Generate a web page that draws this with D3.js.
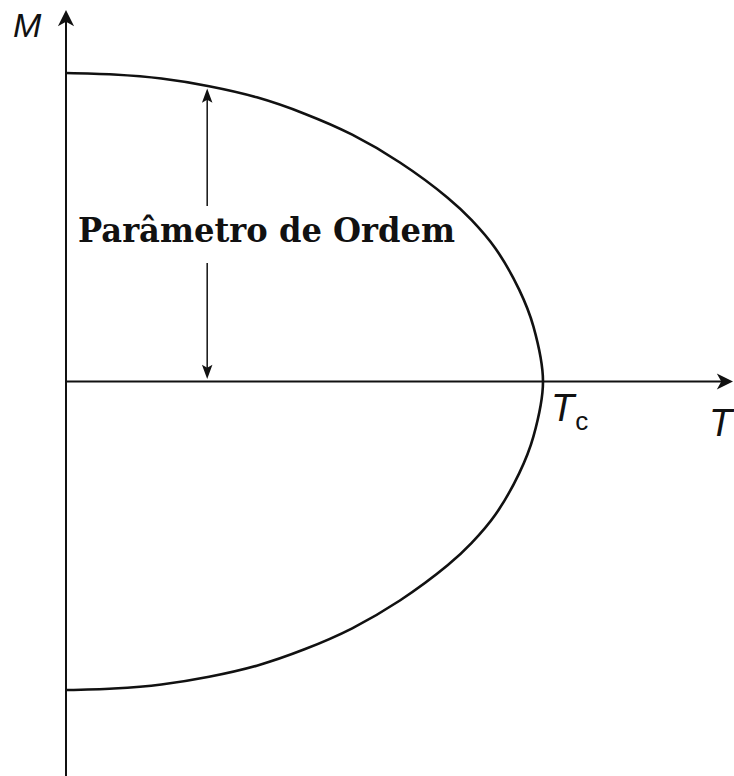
<!DOCTYPE html>
<html>
<head>
<meta charset="utf-8">
<script src="https://cdn.jsdelivr.net/npm/d3@7"></script>
<style>
  html, body { margin: 0; padding: 0; background: #fff; }
  svg { display: block; }
</style>
</head>
<body>
<svg id="chart" width="734" height="776"></svg>
<script>
// Data (T in units of Tc, M normalised to M(0))
const temperatures = [0, 0.1, 0.2, 0.3, 0.4, 0.5, 0.6, 0.7, 0.8, 0.85, 0.9, 0.95, 0.98, 1.0];
const magnetization = [1.0, 0.995, 0.982, 0.957, 0.921, 0.868, 0.800, 0.710, 0.596, 0.524, 0.432, 0.298, 0.178, 0.0];
const arrowT = 0.296;            // position of the order-parameter arrow
const labelText = "Parâmetro de Ordem";

const svg = d3.select("#chart");
const x = d3.scaleLinear().domain([0, 1]).range([66, 543]);
const y = d3.scaleLinear().domain([-1, 1]).range([690, 73]);

const ink = "#111";

// arrowhead markers (notched)
const defs = svg.append("defs");
defs.append("marker")
  .attr("id", "head").attr("viewBox", "-10 -10 20 20")
  .attr("markerWidth", 18).attr("markerHeight", 18)
  .attr("refX", 0).attr("refY", 0).attr("orient", "auto")
  .attr("markerUnits", "userSpaceOnUse")
  .append("path").attr("d", "M10,0 L-8,-9 L-3,0 L-8,9 Z").attr("fill", ink);
defs.append("marker")
  .attr("id", "small").attr("viewBox", "-10 -10 20 20")
  .attr("markerWidth", 15).attr("markerHeight", 15)
  .attr("refX", 0).attr("refY", 0).attr("orient", "auto")
  .attr("markerUnits", "userSpaceOnUse")
  .append("path").attr("d", "M10,0 L-9,-7 L-5,0 L-9,7 Z").attr("fill", ink);

// axes
svg.append("line")
  .attr("x1", x(0)).attr("y1", 776).attr("x2", x(0)).attr("y2", 19)
  .attr("stroke", ink).attr("stroke-width", 2).attr("marker-end", "url(#head)");
svg.append("line")
  .attr("x1", x(0)).attr("y1", y(0)).attr("x2", 724).attr("y2", y(0))
  .attr("stroke", ink).attr("stroke-width", 2).attr("marker-end", "url(#head)");

// curve: upper branch then lower branch (mirror)
const upper = temperatures.map((t, i) => [t, magnetization[i]]);
const lower = upper.slice(0, -1).reverse().map(d => [d[0], -d[1]]);
const pts = upper.concat(lower);
const line = d3.line().x(d => x(d[0])).y(d => y(d[1])).curve(d3.curveCatmullRom.alpha(0.5));
svg.append("path").attr("d", line(pts))
  .attr("fill", "none").attr("stroke", ink).attr("stroke-width", 2.6);

// order parameter double arrow
const mAt = d3.scaleLinear().domain(temperatures).range(magnetization)(arrowT);
const ax = x(arrowT);
svg.append("line")
  .attr("x1", ax).attr("y1", 206).attr("x2", ax).attr("y2", y(mAt) + 10)
  .attr("stroke", ink).attr("stroke-width", 1.5).attr("marker-end", "url(#small)");
svg.append("line")
  .attr("x1", ax).attr("y1", 263).attr("x2", ax).attr("y2", y(0) - 10)
  .attr("stroke", ink).attr("stroke-width", 1.5).attr("marker-end", "url(#small)");

svg.append("text")
  .attr("x", 78).attr("y", 242)
  .attr("font-family", "'DejaVu Serif', 'Liberation Serif', serif")
  .attr("font-weight", "bold").attr("font-size", 33)
  .attr("textLength", 377).attr("lengthAdjust", "spacingAndGlyphs")
  .attr("fill", ink).text(labelText);

// axis labels
const lab = svg.append("g").attr("font-family", "'Liberation Sans', Arial, sans-serif")
  .attr("font-style", "italic").attr("fill", ink);
lab.append("text").attr("x", 13).attr("y", 37).attr("font-size", 34).text("M");
lab.append("text").attr("x", 709).attr("y", 436).attr("font-size", 38).text("T");
const tc = lab.append("text").attr("x", 551).attr("y", 421).attr("font-size", 38);
tc.append("tspan").text("T");
tc.append("tspan").attr("font-style", "normal").attr("font-size", 26).attr("dx", 1).attr("dy", 9).text("c");
</script>
</body>
</html>
